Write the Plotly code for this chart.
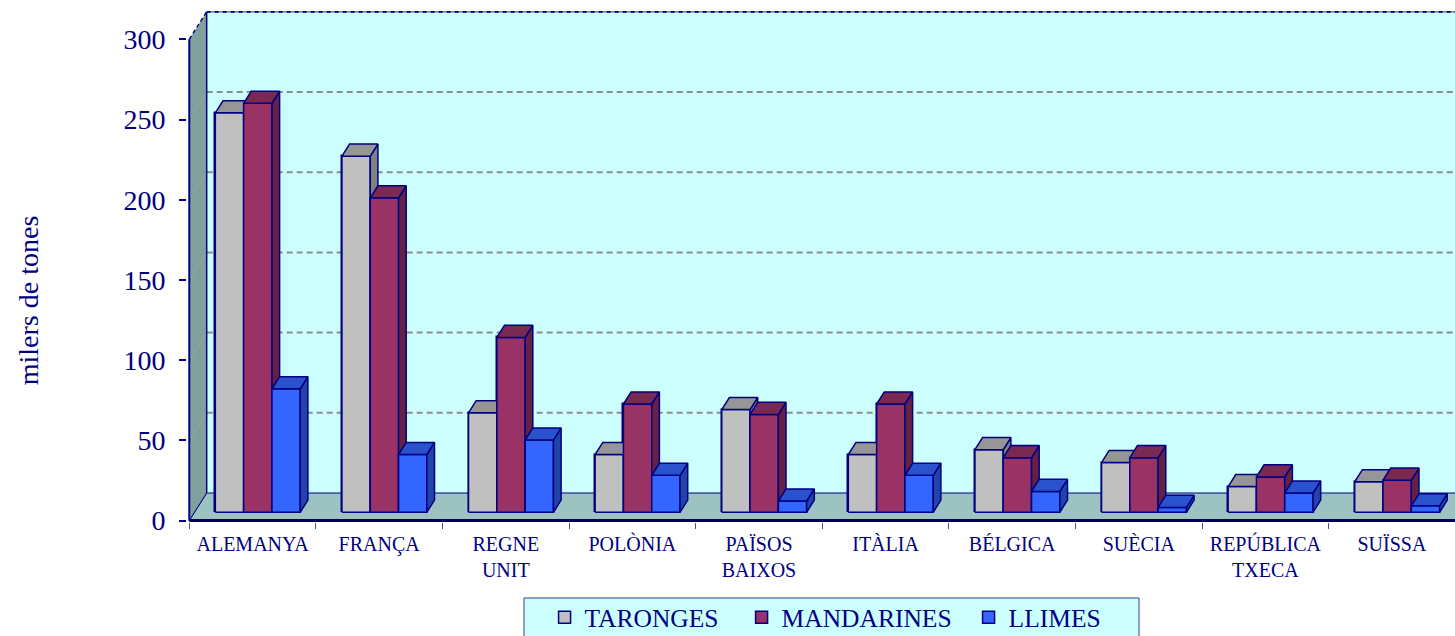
import plotly.graph_objects as go

# ---------------- data ----------------
categories = ["ALEMANYA", "FRANÇA", "REGNE<br>UNIT", "POLÒNIA", "PAÏSOS<br>BAIXOS",
              "ITÀLIA", "BÉLGICA", "SUÈCIA", "REPÚBLICA<br>TXECA", "SUÏSSA"]
taronges = [249, 222, 62, 36, 64, 36, 39, 31, 16, 19]
mandarines = [255, 196, 109, 67.5, 61, 67.5, 34, 34, 22, 20]
llimes = [77, 36, 45, 23, 7, 23, 13, 3, 12, 4]
series_names = ["TARONGES", "MANDARINES", "LLIMES"]
y_ticks = [0, 50, 100, 150, 200, 250, 300]
y_title = "milers de tones"

# ---------------- style / geometry ----------------
NAVY = "#000080"
FONT = "Liberation Serif"
front_cols = ["#c0c0c0", "#993366", "#3366ff"]
top_cols = ["#969696", "#7a2952", "#2952cc"]
side_cols = ["#808080", "#652143", "#2144a8"]

PX_X = 126.6          # px per category
PX_Y = 1.604          # px per value unit
WALL_DX = 17.4 / PX_X  # depth offset of the back wall (x units)
WALL_DY = 27.5 / PX_Y  # depth offset of the back wall (value units)
F0, F1 = 0.30, 0.74    # bar depth range (fraction of floor depth)
BAR_W = 0.2236
ox, oy = F0 * WALL_DX, F0 * WALL_DY
ddx, ddy = (F1 - F0) * WALL_DX, (F1 - F0) * WALL_DY
n = len(categories)
y_max = y_ticks[-1]
X_END = n + 0.5

fig = go.Figure()
all_series = [taronges, mandarines, llimes]

# real bars (front faces) - also give the legend entries
for k, (name, vals) in enumerate(zip(series_names, all_series)):
    fig.add_trace(go.Bar(
        x=[i + 0.5 + ox + (k - 1) * BAR_W for i in range(n)],
        y=vals, base=[oy] * n, width=BAR_W, name=name,
        marker=dict(color=front_cols[k], line=dict(color=NAVY, width=1.5)),
        legendwidth=[152, 182, 100][k],
        hoverinfo="skip",
    ))

# 3-D faces drawn in painter's order (left series to right series)
for k, vals in enumerate(all_series):
    faces = {"front": ([], []), "side": ([], []), "top": ([], [])}
    for i, v in enumerate(vals):
        xl = i + 0.5 + ox + (k - 1.5) * BAR_W
        xr = xl + BAR_W
        b, t = oy, oy + v
        polys = {
            "front": ([xl, xr, xr, xl, xl], [b, b, t, t, b]),
            "side": ([xr, xr + ddx, xr + ddx, xr, xr], [b, b + ddy, t + ddy, t, b]),
            "top": ([xl, xr, xr + ddx, xl + ddx, xl], [t, t, t + ddy, t + ddy, t]),
        }
        for f, (px, py) in polys.items():
            faces[f][0].extend(px + [None])
            faces[f][1].extend(py + [None])
    for f, col in (("front", front_cols[k]), ("side", side_cols[k]), ("top", top_cols[k])):
        fig.add_trace(go.Scatter(
            x=faces[f][0], y=faces[f][1], mode="lines", fill="toself",
            fillcolor=col, line=dict(color=NAVY, width=1.5),
            showlegend=False, hoverinfo="skip",
        ))

shapes = []
# back wall
shapes.append(dict(type="rect", xref="x", yref="y", x0=WALL_DX, x1=X_END, y0=WALL_DY,
                   y1=y_max + WALL_DY, fillcolor="#ccffff", line=dict(width=0), layer="below"))
# floor
shapes.append(dict(type="path", xref="x", yref="y",
                   path=f"M0,0 L{X_END},0 L{X_END},{WALL_DY} L{WALL_DX},{WALL_DY} Z",
                   fillcolor="#9cc2c2", line=dict(color=NAVY, width=1), layer="below"))
# left wall
shapes.append(dict(type="path", xref="x", yref="y",
                   path=f"M0,0 L0,{y_max} L{WALL_DX},{y_max + WALL_DY} L{WALL_DX},{WALL_DY} Z",
                   fillcolor="#80a0a0", line=dict(width=0), layer="below"))
# gridlines on back and left walls
for v in y_ticks[1:-1]:
    shapes.append(dict(type="line", xref="x", yref="y", x0=WALL_DX, x1=X_END,
                       y0=v + WALL_DY, y1=v + WALL_DY,
                       line=dict(color="#8c8c8c", width=2, dash="6px,4px"), layer="below"))
    shapes.append(dict(type="line", xref="x", yref="y", x0=0, x1=WALL_DX,
                       y0=v, y1=v + WALL_DY, line=dict(color="#a0a0a0", width=1), layer="below"))
# wall edges
shapes.append(dict(type="line", xref="x", yref="y", x0=WALL_DX, x1=WALL_DX, y0=WALL_DY,
                   y1=y_max + WALL_DY, line=dict(color=NAVY, width=1.5), layer="below"))
shapes.append(dict(type="line", xref="x", yref="y", x0=WALL_DX, x1=X_END, y0=y_max + WALL_DY,
                   y1=y_max + WALL_DY, line=dict(color="#8c8c8c", width=2), layer="below"))
shapes.append(dict(type="line", xref="x", yref="y", x0=WALL_DX, x1=X_END, y0=y_max + WALL_DY,
                   y1=y_max + WALL_DY, line=dict(color=NAVY, width=2, dash="4px,4px"), layer="below"))
shapes.append(dict(type="line", xref="x", yref="y", x0=0, x1=WALL_DX, y0=y_max,
                   y1=y_max + WALL_DY, line=dict(color=NAVY, width=1.5, dash="4px,3px"), layer="below"))
shapes.append(dict(type="line", xref="x", yref="y", x0=0, x1=WALL_DX, y0=0,
                   y1=WALL_DY, line=dict(color=NAVY, width=1), layer="below"))
# front value axis and category axis lines
shapes.append(dict(type="line", xref="x", yref="y", x0=0, x1=0, y0=0, y1=y_max,
                   line=dict(color=NAVY, width=2), layer="below"))
shapes.append(dict(type="line", xref="x", yref="y", x0=0, x1=X_END, y0=0, y1=0,
                   line=dict(color="#000050", width=3), layer="below"))
# legend box
shapes.append(dict(type="rect", xref="paper", yref="paper", x0=0.2658, x1=0.7508,
                   y0=-0.1487, y1=-0.26, fillcolor="#ccffff",
                   line=dict(color="#3a3a9a", width=1), layer="below"))

fig.update_layout(
    width=1455, height=636,
    margin=dict(l=187, r=0, t=11, b=114, autoexpand=False),
    paper_bgcolor="white", plot_bgcolor="white",
    barmode="overlay", bargap=0,
    shapes=shapes,
    showlegend=True,
    legend=dict(orientation="h", x=0.282, xanchor="left", y=-0.141, yanchor="top",
                bgcolor="rgba(0,0,0,0)", borderwidth=0,
                font=dict(family=FONT, size=25.5, color=NAVY)),
    xaxis=dict(range=[-0.018, 9.998], tickmode="array",
               tickvals=[i + 0.5 for i in range(n)], ticktext=categories,
               ticks="", showgrid=False, zeroline=False, showline=False,
               tickfont=dict(family=FONT, size=20, color=NAVY), tickangle=0,
               ticklabelstandoff=8,
               minor=dict(tickmode="array", tickvals=list(range(n)), ticks="outside",
                          ticklen=6, tickcolor="#5050a0", tickwidth=1, showgrid=False)),
    yaxis=dict(range=[-0.935, 317.64], tickmode="array", tickvals=y_ticks,
               ticks="outside", ticklen=7, tickwidth=1.5, tickcolor=NAVY,
               showgrid=False, zeroline=False, showline=False,
               tickfont=dict(family=FONT, size=28, color=NAVY), ticklabelstandoff=8),
    annotations=[dict(text=y_title, xref="paper", yref="paper", x=-0.1254, y=0.434,
                      xanchor="center", yanchor="middle",
                      textangle=-90, showarrow=False,
                      font=dict(family=FONT, size=28, color=NAVY))],
)

# remove the page's default body margin so the 1455x636 figure fills the window exactly
fig.write_html("out.html",
               config={"displayModeBar": False},
               post_script="document.body.style.margin='0';document.body.style.overflow='hidden';")
